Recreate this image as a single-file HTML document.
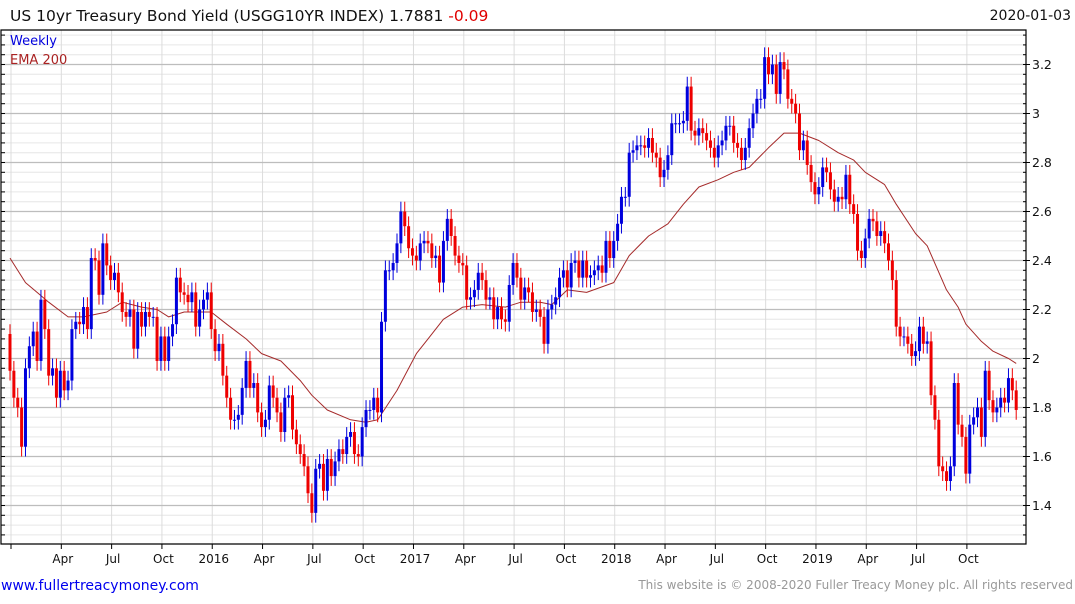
<!DOCTYPE html>
<html><head><meta charset="utf-8"><style>
body{margin:0;background:#fff;width:1075px;height:600px;overflow:hidden;font-family:"DejaVu Sans","Liberation Sans",sans-serif}
svg text{font-family:"DejaVu Sans","Liberation Sans",sans-serif}
</style></head><body>
<svg id="chart" width="1075" height="600" viewBox="0 0 1075 600" xmlns="http://www.w3.org/2000/svg">
<text x="10" y="21" font-size="15.5" fill="#111">US 10yr Treasury Bond Yield (USGG10YR INDEX) 1.7881 <tspan fill="#e00000">-0.09</tspan></text>
<text x="1071" y="20" font-size="14" fill="#111" text-anchor="end">2020-01-03</text>
<g id="grid"></g>
<g id="ema"></g>
<g id="candles"></g>
<g id="axes"></g>
<text x="10" y="45" font-size="13" fill="#0000dd">Weekly</text>
<text x="10" y="64" font-size="13" fill="#aa2222">EMA 200</text>
<text x="1" y="590" font-size="14" fill="#0000ee">www.fullertreacymoney.com</text>
<text x="1073" y="589" font-size="12" fill="#999" text-anchor="end">This website is © 2008-2020 Fuller Treacy Money plc. All rights reserved</text>
</svg>
<script>
const closes=[1.95,1.84,1.80,1.64,1.96,2.05,2.11,1.99,2.24,2.12,1.93,1.96,1.84,1.95,1.87,1.91,2.12,2.15,2.14,2.21,
2.12,2.41,2.40,2.26,2.47,2.38,2.32,2.35,2.27,2.19,2.17,2.20,2.04,2.19,2.13,2.19,2.17,2.17,1.99,2.09,
1.99,2.09,2.14,2.33,2.27,2.26,2.23,2.27,2.13,2.20,2.24,2.27,2.12,2.03,2.06,1.93,1.84,1.75,1.75,1.77,
1.88,1.99,1.88,1.90,1.78,1.72,1.75,1.89,1.84,1.78,1.70,1.84,1.85,1.71,1.65,1.61,1.56,1.45,1.37,1.55,
1.57,1.46,1.59,1.52,1.58,1.63,1.61,1.68,1.70,1.61,1.60,1.72,1.79,1.79,1.84,1.78,2.15,2.36,2.36,2.39,
2.47,2.60,2.54,2.45,2.42,2.40,2.47,2.48,2.47,2.41,2.42,2.31,2.48,2.57,2.50,2.42,2.39,2.38,2.24,2.25,
2.28,2.35,2.32,2.24,2.25,2.16,2.21,2.16,2.15,2.30,2.39,2.33,2.24,2.29,2.27,2.19,2.20,2.17,2.06,2.20,
2.22,2.25,2.33,2.36,2.29,2.39,2.40,2.33,2.40,2.33,2.34,2.36,2.38,2.35,2.48,2.41,2.48,2.55,2.66,2.66,
2.84,2.85,2.87,2.87,2.86,2.90,2.84,2.82,2.74,2.77,2.83,2.96,2.96,2.96,2.97,3.11,2.93,2.91,2.94,2.92,
2.89,2.86,2.82,2.87,2.89,2.95,2.95,2.88,2.86,2.81,2.86,2.94,3.00,3.06,3.06,3.23,3.16,3.20,3.08,3.21,
3.18,3.06,3.04,3.00,2.85,2.89,2.79,2.72,2.67,2.70,2.78,2.76,2.69,2.64,2.66,2.65,2.75,2.63,2.59,2.44,
2.41,2.49,2.57,2.56,2.50,2.52,2.47,2.40,2.32,2.13,2.09,2.09,2.06,2.01,2.03,2.13,2.06,2.07,1.85,1.75,
1.56,1.54,1.50,1.56,1.90,1.73,1.68,1.53,1.73,1.76,1.80,1.68,1.95,1.83,1.78,1.80,1.84,1.82,1.92,1.87,1.79];
const firstOpen=2.10;
const emaWeek=[0,4,7,10,15,19,25,29,34,38,41,45,52,56,61,65,70,75,78,82,88,92,95,100,105,108,112,117,122,128,132,137,140,144,149,156,160,165,170,174,178,183,187,191,196,200,204,209,214,218,221,226,229,234,237,242,245,247,251,254,258,260];
const emaVal=[2.41,2.31,2.27,2.23,2.17,2.17,2.19,2.23,2.21,2.20,2.17,2.19,2.19,2.14,2.08,2.02,1.99,1.91,1.85,1.79,1.75,1.74,1.75,1.87,2.02,2.08,2.16,2.21,2.22,2.21,2.23,2.23,2.22,2.28,2.27,2.31,2.42,2.50,2.55,2.63,2.70,2.73,2.76,2.78,2.86,2.92,2.92,2.89,2.84,2.81,2.76,2.71,2.63,2.51,2.46,2.28,2.21,2.14,2.07,2.03,2.00,1.98];
const yTicks=["1.4","1.6","1.8","2","2.2","2.4","2.6","2.8","3","3.2"];
const xLabels=["Apr","Jul","Oct","2016","Apr","Jul","Oct","2017","Apr","Jul","Oct","2018","Apr","Jul","Oct","2019","Apr","Jul","Oct"];
const xLabelWeek=[13,26,39,52,65,78,91,104,117,130,143,156,169,182,195,208,221,234,247];

const NS="http://www.w3.org/2000/svg";
const L=1,R=1026,T=30,B=544;
function X(i){return 10+i*3.87;}
function Y(v){return 64.5+(3.2-v)*245;}
function mk(tag,attrs,parent){const e=document.createElementNS(NS,tag);for(const k in attrs)e.setAttribute(k,attrs[k]);parent.appendChild(e);return e;}
const grid=document.getElementById('grid'),axes=document.getElementById('axes'),cg=document.getElementById('candles'),eg=document.getElementById('ema');
for(let k=0;k<60;k++){const v=1.24+k*0.04;const y=Y(v);if(y<T||y>B)continue;
 const ln=mk('line',{x1:L,x2:R,y1:y,y2:y,stroke:'#e6e6e6','stroke-width':1},grid);
 
 
 const tk=mk('line',{x1:L,x2:L+4,y1:y,y2:y,stroke:'#000','stroke-width':1},axes);
 
 
 const tr=mk('line',{x1:R-3,x2:R,y1:y,y2:y,stroke:'#000','stroke-width':1},axes);
 
 
}
const qWeeks=[0].concat(xLabelWeek);
qWeeks.forEach(w=>{const x=X(w)+1;
 const ln=mk('line',{x1:x,x2:x,y1:T,y2:B,stroke:'#dcdcdc','stroke-width':1},grid);
 
 
 const tk=mk('line',{x1:x,x2:x,y1:B,y2:B+5,stroke:'#000','stroke-width':1},axes);
 
 
});
xLabels.forEach((s,i)=>{const t=mk('text',{x:X(xLabelWeek[i])+2.5,y:563,'font-size':12,'text-anchor':'middle',fill:'#111'},axes);t.textContent=s;
 
 });
yTicks.forEach(s=>{const y=Y(parseFloat(s));
 const ln=mk('line',{x1:L,x2:R,y1:y,y2:y,stroke:'#bdbdbd','stroke-width':1.2},grid);
 
 
 const tk=mk('line',{x1:R,x2:R+4,y1:y,y2:y,stroke:'#000','stroke-width':1},axes);
 
 
 const t=mk('text',{x:1032,y:y+4.5,'font-size':12.5,fill:'#111'},axes);t.textContent=s;
 
 
});
const fr=mk('path',{d:`M${L},${T} H${R} V${B} H${L} Z`,fill:'none',stroke:'#000','stroke-width':1.2},axes);


let d='';emaWeek.forEach((w,i)=>{d+=(i?'L':'M')+X(w).toFixed(1)+','+Y(emaVal[i]).toFixed(1);});
const ep=mk('path',{d:d,fill:'none',stroke:'#a52a2a','stroke-width':1,'stroke-linejoin':'round'},eg);


closes.forEach((c,i)=>{const o=i?closes[i-1]:firstOpen;const up=c>=o;const col=up?'#0000dd':'#ee0000';
 const hi=Math.max(o,c)+0.04,lo=Math.min(o,c)-0.04;const x=X(i);
 const g=mk('g',{},cg);
 
 
 mk('line',{x1:x,x2:x,y1:Y(hi),y2:Y(lo),stroke:col,'stroke-width':1},g);
 const y1=Y(Math.max(o,c)),y2=Y(Math.min(o,c));
 mk('rect',{x:x-1.5,y:y1,width:3,height:Math.max(1,y2-y1),fill:col},g);
});
</script>
</body></html>
